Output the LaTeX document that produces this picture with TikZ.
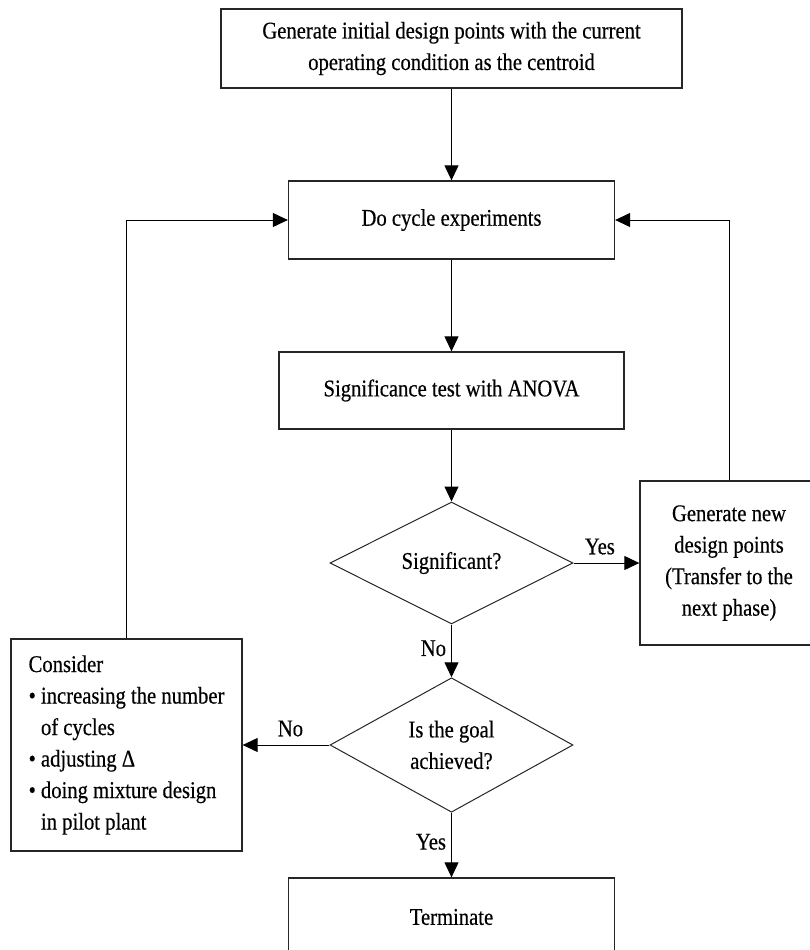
\documentclass[tikz,border=0pt]{standalone}
\usepackage{fontspec}
\setmainfont{Liberation Serif}[FakeStretch=0.86, FakeBold=0.4]
\usetikzlibrary{shapes.geometric,arrows.meta}

\begin{document}
\begin{tikzpicture}[x=1pt,y=-1pt,
        every node/.style={font=\fontsize{24}{31.5}\selectfont},
        flowbox/.style={draw=black!85, line width=1.3pt, inner sep=0pt, align=center},
        decision/.style={draw=black!85, line width=1pt, diamond, inner sep=0pt, align=center,
            minimum width=243pt, minimum height=122pt},
        arrline/.style={-{Triangle[length=15pt,width=14pt]}, line width=1pt},
        lbl/.style={inner sep=5pt}]
        \useasboundingbox (0,0) rectangle (809,950);
        % boxes down the middle
        \node[flowbox, minimum width=461pt, minimum height=79pt] (init) at (451.5,48.5)
            {Generate initial design points with the current\\operating condition as the centroid};
        \node[flowbox, minimum width=326pt, minimum height=78pt] (cycle) at (451.5,220) {Do cycle experiments};
        \node[flowbox, minimum width=345pt, minimum height=77pt] (anova) at (451.5,390.5) {Significance test with ANOVA};
        \node[decision] (sig) at (451.5,563) {Significant?};
        \node[decision] (goal) at (451.5,745) {Is the goal\\achieved?};
        \node[flowbox, minimum width=326pt, minimum height=78pt] (term) at (451.5,917) {Terminate};
        % side boxes
        \node[flowbox, minimum width=178pt, minimum height=164pt] (newpts) at (729,563)
            {Generate new\\design points\\(Transfer to the\\next phase)};
        \node[flowbox, align=left, minimum width=231pt, minimum height=212pt] (consider) at (126.5,745)
            {Consider\\• increasing the number\\\phantom{• }of cycles\\• adjusting Δ\\• doing mixture design\\\phantom{• }in pilot plant};
        % arrows
        \draw[arrline] (init) -- (cycle);
        \draw[arrline] (cycle) -- (anova);
        \draw[arrline] (anova) -- (sig);
        \draw[arrline] (sig) -- node[lbl, above=3pt, pos=0.4] {Yes} (newpts);
        \draw[arrline] (newpts.north) |- (cycle.east);
        \draw[arrline] (sig) -- node[lbl, left, pos=0.45] {No} (goal);
        \draw[arrline] (goal) -- node[lbl, above=3pt, pos=0.45] {No} (consider);
        \draw[arrline] (consider.north) |- (cycle.west);
        \draw[arrline] (goal) -- node[lbl, left, pos=0.45] {Yes} (term);
\end{tikzpicture}
\end{document}
